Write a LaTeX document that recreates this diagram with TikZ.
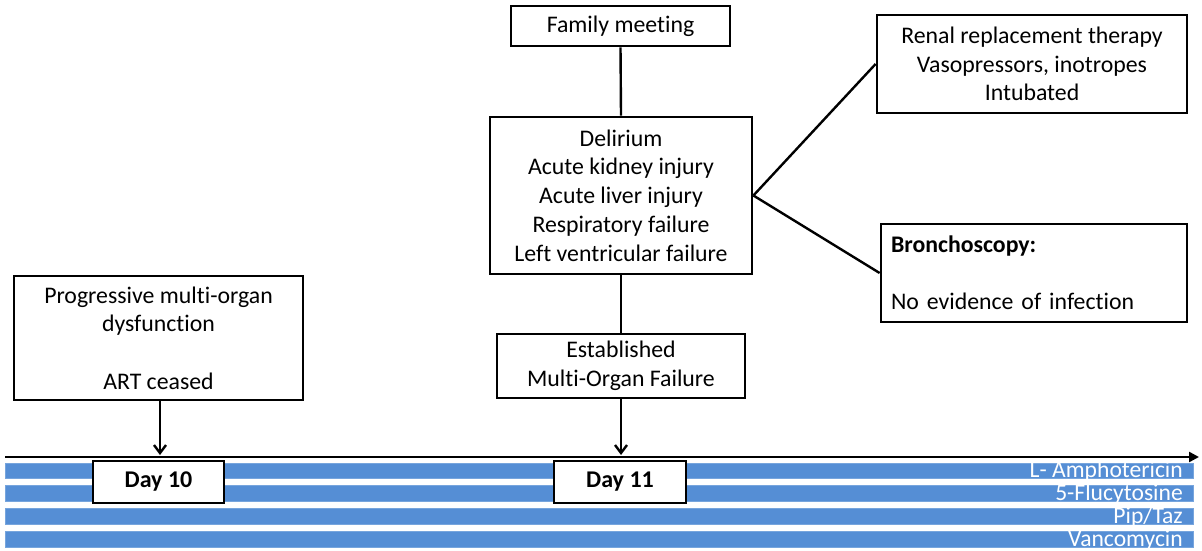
\documentclass[tikz,border=0pt]{standalone}
\usepackage{fontspec}
\setmainfont{Carlito}[Ligatures={NoCommon}]
\usetikzlibrary{arrows.meta}
\definecolor{barblue}{RGB}{85,142,213}
\begin{document}
\begin{tikzpicture}[x=1pt,y=-1pt,
  txt/.style={font=\fontsize{23.8}{28.7}\selectfont},
  box/.style={draw=black,line width=2.8pt,fill=white,inner sep=0pt,txt,align=center},
  link/.style={line width=2.4pt},
  downarrow/.style={line width=2.4pt,-{Straight Barb[length=8pt,width=12pt,line width=2.4pt]}},
  bar/.style={fill=barblue,draw=barblue!80!white,line width=0.6pt},
  barlabel/.style={text=white,font=\fontsize{23.6}{26}\selectfont,anchor=base east,inner sep=0pt}]
\useasboundingbox (0,0) rectangle (1202,551);

% bars
\foreach \t/\b/\lab/\n in {463/478/{L- Amphotericin}/a,485/501/{5-Flucytosine}/b,508/524/{Pip/Taz}/c,531/547/{Vancomycin}/d}{
  \draw[bar] (5,\t) rectangle (1193,\b);
  \node[barlabel] (lab\n) at (1183,\b-1) {\lab};
}

% timeline
\coordinate (tlstart) at (5,457);
\coordinate (tlend) at (1199,457);
\draw[line width=2.4pt,-{Triangle[length=10pt,width=10pt]}] (tlstart) -- (tlend);

% boxes
\node[box,minimum width=219pt,minimum height=40pt] (family) at (620.5,26) {Family meeting};
\node[box,minimum width=262pt,minimum height=157pt] (organs) at (621,195.5)
  {Delirium\\Acute kidney injury\\Acute liver injury\\Respiratory failure\\Left ventricular failure};
\node[box,minimum width=310pt,minimum height=98pt] (renal) at (1032,64)
  {Renal replacement therapy\\Vasopressors, inotropes\\Intubated};
\node[box,minimum height=98pt,text width=286pt,inner xsep=10pt,align=left] (broncho) at (1034,273)
  {\textbf{Bronchoscopy:}\\~\\No evidence of infection};
\node[box,minimum width=289pt,minimum height=124pt] (progress) at (158.5,338)
  {Progressive multi-organ\\dysfunction\\~\\ART ceased};
\node[box,minimum width=248pt,minimum height=64pt] (established) at (621,366)
  {Established\\Multi-Organ Failure};
\node[box,minimum width=131pt,minimum height=42pt,font=\fontsize{24}{28}\selectfont\bfseries] (day10) at (158.5,482) {Day 10};
\node[box,minimum width=132pt,minimum height=42pt,font=\fontsize{24}{28}\selectfont\bfseries] (day11) at (620,482) {Day 11};

% connectors
\draw[link] (family.south) -- (organs.north);
\draw[link] (organs.south) -- (established.north);
\draw[link] (organs.east) -- (renal.west);
\draw[link] (organs.east) -- (broncho.west);
\coordinate (d10) at (160,455);
\coordinate (d11) at (621,455);
\draw[downarrow] (progress.south -| d10) -- (d10);
\draw[downarrow] (established.south) -- (d11);
\end{tikzpicture}
\end{document}
